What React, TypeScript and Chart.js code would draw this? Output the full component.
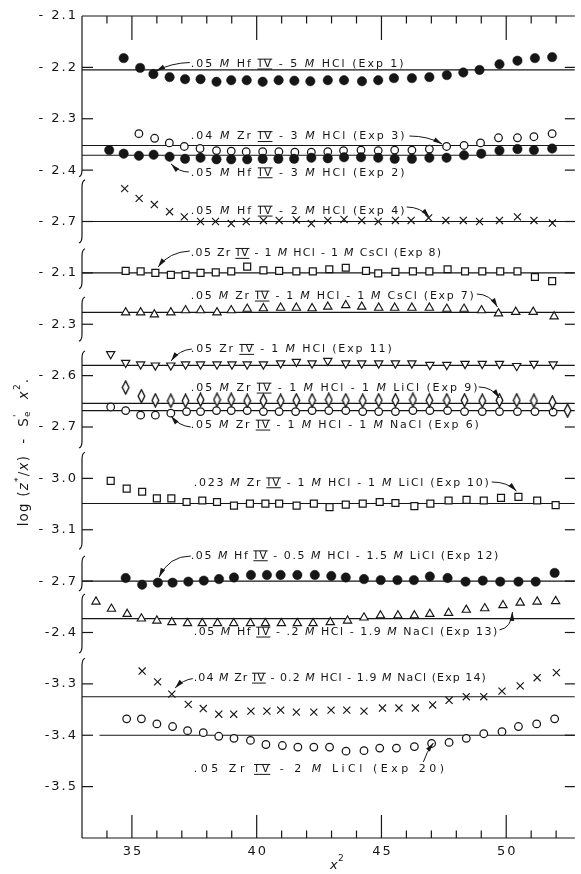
import React, { useEffect, useRef } from "react";
import { Chart, registerables } from "chart.js";

Chart.register(...registerables);

// ---------- axes ----------
const X_MIN = 33;
const X_MAX = 52.75;
const Y_MIN = 0;
const Y_MAX = 16;

const xTickMajor = [35, 40, 45, 50];
const xTickMinor = [34, 36, 37, 38, 39, 41, 42, 43, 44, 46, 47, 48, 49, 51, 52];

// Broken y axis: each panel places `panelAnchorValue` at stacked position `panelAnchorPos` (0.1 log unit = 1)
const panelAnchorValue = [-2.1, -2.7, -2.1, -2.3, -2.6, -3.0, -2.7, -2.4, -3.3];
const panelAnchorPos = [0, 4, 5, 6, 7, 9, 11, 12, 13];

const yTickPositions = [0, 1, 2, 3, 4, 5, 6, 7, 8, 9, 10, 11, 12, 13, 14, 15];
const yTickLabels = [
  "- 2.1", "- 2.2", "- 2.3", "- 2.4", "- 2.7", "- 2.1", "- 2.3", "- 2.6",
  "- 2.7", "- 3.0", "- 3.1", "- 2.7", "-2.4", "-3.3", "-3.4", "-3.5",
];
// [end of panel, start of next panel] in stacked position units
const axisBreaks = [
  [3.11, 3.21], [4.4, 4.55], [5.29, 5.49], [6.31, 6.54],
  [8.39, 8.51], [10.36, 10.53], [11.17, 11.27], [12.38, 12.52],
];

// ---------- data ----------
const exp1X = [34.67, 35.33, 35.86, 36.51, 37.13, 37.75, 38.39, 38.98, 39.6, 40.24, 40.88, 41.51, 42.15, 42.85, 43.5, 44.22, 44.87, 45.5, 46.22, 46.92, 47.62, 48.28, 48.93, 49.73, 50.45, 51.15, 51.84];
const exp1Y = [-2.182, -2.201, -2.213, -2.219, -2.223, -2.223, -2.228, -2.225, -2.225, -2.228, -2.225, -2.226, -2.227, -2.225, -2.225, -2.227, -2.225, -2.221, -2.221, -2.219, -2.215, -2.21, -2.205, -2.194, -2.187, -2.182, -2.18];

const exp3X = [35.28, 35.91, 36.5, 37.1, 37.73, 38.39, 38.98, 39.58, 40.24, 40.89, 41.53, 42.19, 42.85, 43.48, 44.18, 44.87, 45.53, 46.22, 46.92, 47.61, 48.31, 48.97, 49.69, 50.45, 51.11, 51.84];
const exp3Y = [-2.329, -2.338, -2.347, -2.354, -2.358, -2.362, -2.363, -2.364, -2.364, -2.364, -2.365, -2.365, -2.364, -2.362, -2.361, -2.362, -2.361, -2.361, -2.359, -2.354, -2.352, -2.347, -2.337, -2.337, -2.335, -2.329];

const exp2X = [34.09, 34.67, 35.28, 35.87, 36.51, 37.13, 37.75, 38.39, 38.98, 39.62, 40.24, 40.87, 41.5, 42.19, 42.85, 43.5, 44.18, 44.87, 45.53, 46.22, 46.92, 47.61, 48.31, 49.0, 49.73, 50.45, 51.11, 51.84];
const exp2Y = [-2.361, -2.368, -2.372, -2.37, -2.374, -2.378, -2.376, -2.379, -2.379, -2.379, -2.378, -2.378, -2.378, -2.376, -2.377, -2.375, -2.375, -2.376, -2.378, -2.378, -2.376, -2.376, -2.371, -2.368, -2.362, -2.359, -2.361, -2.358];

const exp4X = [34.71, 35.29, 35.9, 36.51, 37.1, 37.75, 38.35, 38.98, 39.58, 40.27, 40.9, 41.59, 42.19, 42.85, 43.5, 44.21, 44.87, 45.56, 46.19, 46.89, 47.58, 48.28, 48.93, 49.73, 50.45, 51.11, 51.85];
const exp4Y = [-2.636, -2.655, -2.667, -2.681, -2.691, -2.7, -2.7, -2.704, -2.7, -2.698, -2.698, -2.697, -2.704, -2.698, -2.696, -2.698, -2.7, -2.698, -2.698, -2.693, -2.698, -2.698, -2.7, -2.698, -2.691, -2.698, -2.703];

const exp8X = [34.75, 35.35, 35.94, 36.56, 37.15, 37.75, 38.36, 38.98, 39.62, 40.27, 40.9, 41.59, 42.25, 42.91, 43.57, 44.38, 44.87, 45.56, 46.26, 46.92, 47.65, 48.35, 49.04, 49.76, 50.45, 51.15, 51.84];
const exp8Y = [-2.096, -2.097, -2.1, -2.104, -2.104, -2.1, -2.099, -2.097, -2.088, -2.095, -2.096, -2.097, -2.097, -2.093, -2.09, -2.096, -2.101, -2.098, -2.097, -2.097, -2.093, -2.097, -2.097, -2.097, -2.097, -2.108, -2.116];

const exp7X = [34.75, 35.35, 35.9, 36.56, 37.15, 37.75, 38.41, 38.98, 39.62, 40.27, 40.96, 41.59, 42.22, 42.85, 43.57, 44.21, 44.89, 45.53, 46.22, 46.92, 47.62, 48.31, 49.01, 49.69, 50.38, 51.08, 51.92];
const exp7Y = [-2.277, -2.277, -2.281, -2.277, -2.273, -2.273, -2.277, -2.273, -2.27, -2.269, -2.268, -2.268, -2.269, -2.266, -2.263, -2.266, -2.268, -2.268, -2.268, -2.268, -2.27, -2.27, -2.273, -2.279, -2.276, -2.276, -2.285];

const exp11X = [34.15, 34.75, 35.35, 35.94, 36.56, 37.15, 37.75, 38.41, 39.01, 39.62, 40.27, 40.96, 41.59, 42.22, 42.85, 43.57, 44.21, 44.89, 45.56, 46.22, 46.94, 47.62, 48.35, 49.04, 49.73, 50.42, 51.11, 51.88];
const exp11Y = [-2.558, -2.575, -2.578, -2.58, -2.58, -2.578, -2.578, -2.578, -2.578, -2.578, -2.578, -2.576, -2.573, -2.576, -2.571, -2.576, -2.576, -2.576, -2.576, -2.576, -2.579, -2.579, -2.577, -2.577, -2.577, -2.581, -2.577, -2.578];

const exp9X = [34.75, 35.38, 35.94, 36.56, 37.15, 37.75, 38.41, 38.98, 39.62, 40.27, 40.96, 41.59, 42.22, 42.89, 43.57, 44.25, 44.89, 45.56, 46.26, 46.92, 47.62, 48.33, 49.04, 49.73, 50.42, 51.11, 51.85, 52.46];
const exp9Y = [-2.623, -2.64, -2.648, -2.649, -2.649, -2.647, -2.647, -2.647, -2.649, -2.649, -2.649, -2.648, -2.648, -2.647, -2.648, -2.649, -2.648, -2.648, -2.647, -2.648, -2.648, -2.648, -2.649, -2.648, -2.648, -2.649, -2.652, -2.668];

const exp6X = [34.15, 34.75, 35.35, 35.94, 36.56, 37.19, 37.75, 38.39, 38.98, 39.62, 40.27, 40.9, 41.56, 42.22, 42.89, 43.57, 44.25, 44.89, 45.56, 46.26, 46.94, 47.65, 48.33, 49.04, 49.73, 50.45, 51.15, 51.88];
const exp6Y = [-2.661, -2.668, -2.677, -2.677, -2.673, -2.67, -2.67, -2.668, -2.668, -2.668, -2.67, -2.67, -2.67, -2.668, -2.668, -2.668, -2.67, -2.67, -2.67, -2.668, -2.668, -2.668, -2.67, -2.67, -2.67, -2.67, -2.67, -2.671];

const exp10X = [34.15, 34.79, 35.41, 36.0, 36.58, 37.19, 37.82, 38.41, 39.09, 39.73, 40.35, 40.9, 41.6, 42.29, 42.92, 43.57, 44.25, 44.93, 45.56, 46.32, 46.96, 47.69, 48.41, 49.1, 49.79, 50.49, 51.24, 51.98];
const exp10Y = [-3.005, -3.02, -3.026, -3.039, -3.039, -3.046, -3.043, -3.046, -3.053, -3.049, -3.049, -3.049, -3.053, -3.049, -3.056, -3.051, -3.049, -3.046, -3.048, -3.054, -3.049, -3.043, -3.042, -3.043, -3.038, -3.036, -3.043, -3.052];

const exp12X = [34.75, 35.41, 36.04, 36.63, 37.26, 37.88, 38.49, 39.09, 39.77, 40.41, 40.96, 41.63, 42.33, 42.99, 43.57, 44.3, 44.97, 45.64, 46.3, 46.94, 47.65, 48.37, 49.06, 49.76, 50.49, 51.18, 51.94];
const exp12Y = [-2.694, -2.707, -2.703, -2.703, -2.701, -2.699, -2.696, -2.693, -2.688, -2.688, -2.688, -2.688, -2.688, -2.69, -2.693, -2.696, -2.698, -2.698, -2.698, -2.691, -2.694, -2.701, -2.699, -2.701, -2.701, -2.701, -2.684];

const exp13X = [33.56, 34.18, 34.81, 35.38, 36.0, 36.6, 37.23, 37.82, 38.43, 39.08, 39.75, 40.35, 40.99, 41.63, 42.26, 42.95, 43.64, 44.3, 44.96, 45.66, 46.32, 46.94, 47.69, 48.4, 49.14, 49.87, 50.56, 51.24, 51.98];
const exp13Y = [-2.34, -2.354, -2.364, -2.373, -2.377, -2.38, -2.382, -2.382, -2.382, -2.382, -2.382, -2.382, -2.382, -2.382, -2.382, -2.38, -2.377, -2.371, -2.367, -2.367, -2.367, -2.364, -2.362, -2.356, -2.353, -2.347, -2.342, -2.34, -2.339];

const exp14X = [35.41, 36.03, 36.6, 37.26, 37.86, 38.48, 39.08, 39.77, 40.41, 40.96, 41.59, 42.29, 42.98, 43.61, 44.3, 45.04, 45.7, 46.36, 47.05, 47.71, 48.4, 49.1, 49.83, 50.56, 51.24, 52.01];
const exp14Y = [-3.275, -3.296, -3.32, -3.34, -3.348, -3.359, -3.359, -3.353, -3.353, -3.351, -3.355, -3.355, -3.351, -3.351, -3.353, -3.347, -3.347, -3.347, -3.341, -3.332, -3.325, -3.325, -3.314, -3.304, -3.288, -3.278];

const exp20X = [34.79, 35.38, 36.0, 36.63, 37.23, 37.86, 38.48, 39.09, 39.75, 40.37, 41.03, 41.65, 42.29, 42.92, 43.58, 44.3, 44.93, 45.6, 46.32, 47.01, 47.71, 48.4, 49.1, 49.83, 50.49, 51.22, 51.94];
const exp20Y = [-3.368, -3.368, -3.378, -3.383, -3.391, -3.395, -3.402, -3.406, -3.41, -3.418, -3.42, -3.423, -3.423, -3.423, -3.431, -3.43, -3.425, -3.425, -3.422, -3.416, -3.414, -3.406, -3.397, -3.393, -3.383, -3.378, -3.368];

// series: name, x, y, panel index, marker
const series = [
  { name: "Exp 1", x: exp1X, y: exp1Y, panel: 0, marker: "dot" },
  { name: "Exp 3", x: exp3X, y: exp3Y, panel: 0, marker: "ring" },
  { name: "Exp 2", x: exp2X, y: exp2Y, panel: 0, marker: "dot" },
  { name: "Exp 4", x: exp4X, y: exp4Y, panel: 1, marker: "cross" },
  { name: "Exp 8", x: exp8X, y: exp8Y, panel: 2, marker: "square" },
  { name: "Exp 7", x: exp7X, y: exp7Y, panel: 3, marker: "triUp" },
  { name: "Exp 11", x: exp11X, y: exp11Y, panel: 4, marker: "triDown" },
  { name: "Exp 9", x: exp9X, y: exp9Y, panel: 4, marker: "diamond" },
  { name: "Exp 6", x: exp6X, y: exp6Y, panel: 4, marker: "ring" },
  { name: "Exp 10", x: exp10X, y: exp10Y, panel: 5, marker: "square" },
  { name: "Exp 12", x: exp12X, y: exp12Y, panel: 6, marker: "dot" },
  { name: "Exp 13", x: exp13X, y: exp13Y, panel: 7, marker: "triUp" },
  { name: "Exp 14", x: exp14X, y: exp14Y, panel: 8, marker: "cross" },
  { name: "Exp 20", x: exp20X, y: exp20Y, panel: 8, marker: "ring" },
];

// fitted horizontal lines: panel, level, starting x
const refPanels = [0, 0, 0, 1, 2, 3, 4, 4, 4, 5, 6, 7, 8, 8];
const refLevels = [-2.205, -2.352, -2.371, -2.7, -2.1, -2.277, -2.58, -2.654, -2.668, -3.049, -2.7, -2.373, -3.325, -3.4];
const refStartX = [33, 33, 33, 33, 33, 33, 33, 33, 33, 33, 33, 33, 33, 33.7];

// ---------- annotation layout (text in data x, stacked y) ----------
const labelTexts = [
  ".05 *M* Hf #IV# - 5 *M* HCl (Exp 1)",
  ".04 *M* Zr #IV# - 3 *M* HCl (Exp 3)",
  ".05 *M* Hf #IV# - 3 *M* HCl (Exp 2)",
  ".05 *M* Hf #IV# - 2 *M* HCl (Exp 4)",
  ".05 Zr #IV# - 1 *M* HCl - 1 *M* CsCl (Exp 8)",
  ".05 *M* Zr #IV# - 1 *M* HCl - 1 *M* CsCl (Exp 7)",
  ".05 Zr #IV# - 1 *M* HCl (Exp 11)",
  ".05 *M* Zr #IV# - 1 *M* HCl - 1 *M* LiCl (Exp 9)",
  ".05 *M* Zr #IV# - 1 *M* HCl - 1 *M* NaCl (Exp 6)",
  ".023 *M* Zr #IV# - 1 *M* HCl - 1 *M* LiCl (Exp 10)",
  ".05 *M* Hf #IV# - 0.5 *M* HCl - 1.5 *M* LiCl (Exp 12)",
  ".05 *M* Hf #IV# - .2 *M* HCl - 1.9 *M* NaCl (Exp 13)",
  ".04 *M* Zr #IV# - 0.2 *M* HCl - 1.9 *M* NaCl (Exp 14)",
  ".05 Zr #IV# - 2 *M* LiCl (Exp 20)",
];
const labelStart = [37.36, 37.36, 37.36, 37.36, 37.36, 37.36, 37.36, 37.36, 37.36, 37.48, 37.36, 37.48, 37.48, 37.48];
const labelEnd = [45.89, 45.93, 45.93, 45.93, 47.39, 48.7, 45.41, 48.85, 48.9, 49.3, 49.68, 49.64, 49.18, 47.51];
const labelPos = [0.934, 2.345, 3.05, 3.796, 4.619, 5.45, 6.488, 7.241, 7.961, 9.084, 10.505, 11.99, 12.886, 14.663];
// arrows: [startX, startPos, ctrlX, ctrlPos, tipX, tipPos]
const arrows = [
  [37.32, 0.905, 36.57, 0.915, 35.97, 1.071],
  [46.12, 2.336, 46.87, 2.336, 47.43, 2.491],
  [37.28, 3.037, 36.89, 3.037, 36.57, 2.88],
  [46.01, 3.718, 46.56, 3.718, 46.92, 3.912],
  [37.32, 4.574, 36.49, 4.594, 36.05, 4.886],
  [48.82, 5.411, 49.34, 5.411, 49.65, 5.664],
  [37.4, 6.482, 36.89, 6.501, 36.57, 6.715],
  [48.9, 7.221, 49.42, 7.221, 49.73, 7.436],
  [37.36, 8.0, 36.89, 7.981, 36.57, 7.786],
  [49.42, 9.07, 50.05, 9.07, 50.41, 9.246],
  [37.36, 10.511, 36.49, 10.511, 36.09, 10.92],
  [49.73, 11.95, 50.21, 11.91, 50.25, 11.6],
  [37.44, 12.896, 37.04, 12.925, 36.73, 13.08],
  [46.68, 14.52, 46.8, 14.33, 47.08, 14.15],
];

// ---------- styling ----------
const INK = "#161616";
const FONT = '"DejaVu Sans", "Liberation Sans", sans-serif';

function toPos(v: number, panel: number) {
  return panelAnchorPos[panel] + (panelAnchorValue[panel] - v) * 10;
}

function makeDiamond() {
  const c = document.createElement("canvas");
  c.width = 9;
  c.height = 15;
  const g = c.getContext("2d")!;
  g.beginPath();
  g.moveTo(4.5, 1);
  g.lineTo(7.8, 7.5);
  g.lineTo(4.5, 14);
  g.lineTo(1.2, 7.5);
  g.closePath();
  g.fillStyle = "#fff";
  g.fill();
  g.lineWidth = 1.4;
  g.strokeStyle = INK;
  g.stroke();
  return c;
}

function markerStyle(marker: string, diamond: HTMLCanvasElement) {
  switch (marker) {
    case "dot":
      return { pointStyle: "circle", pointRadius: 4.7, backgroundColor: INK, borderColor: INK, borderWidth: 0.5, order: 1 };
    case "ring":
      return { pointStyle: "circle", pointRadius: 3.8, backgroundColor: "#fff", borderColor: INK, borderWidth: 1.25, order: 10 };
    case "square":
      return { pointStyle: "rect", pointRadius: 4.9, backgroundColor: "#fff", borderColor: INK, borderWidth: 1.25, order: 6 };
    case "triUp":
      return { pointStyle: "triangle", pointRadius: 4.8, backgroundColor: "#fff", borderColor: INK, borderWidth: 1.15, order: 6 };
    case "triDown":
      return { pointStyle: "triangle", pointRotation: 180, pointRadius: 4.8, backgroundColor: "#fff", borderColor: INK, borderWidth: 1.15, order: 6 };
    case "cross":
      return { pointStyle: "crossRot", pointRadius: 5, backgroundColor: INK, borderColor: INK, borderWidth: 1.15, order: 5 };
    default:
      return { pointStyle: diamond, pointRadius: 5, backgroundColor: "#fff", borderColor: INK, borderWidth: 1, order: 8 };
  }
}

function drawSpaced(ctx: CanvasRenderingContext2D, text: string, x: number, y: number, spacing: number, align: string) {
  const chars = Array.from(text);
  const widths = chars.map((c) => ctx.measureText(c).width);
  const total = widths.reduce((a, b) => a + b, 0) + spacing * (chars.length - 1);
  let cx = align === "right" ? x - total : align === "center" ? x - total / 2 : x;
  ctx.textAlign = "left";
  chars.forEach((c, i) => {
    ctx.fillText(c, cx, y);
    cx += widths[i] + spacing;
  });
}

function parseRich(s: string) {
  const out: { t: string; k: string }[] = [];
  const re = /\*([^*]+)\*|#([^#]+)#|([^*#]+)/g;
  let m: RegExpExecArray | null;
  while ((m = re.exec(s))) {
    if (m[1]) out.push({ t: m[1], k: "i" });
    else if (m[2]) out.push({ t: m[2], k: "bar" });
    else out.push({ t: m[3], k: "n" });
  }
  return out;
}

function drawRich(ctx: CanvasRenderingContext2D, s: string, x0: number, x1: number, y: number, size: number) {
  const glyphs: { c: string; k: string; w: number; x: number }[] = [];
  parseRich(s).forEach((p) => {
    for (const c of Array.from(p.t)) glyphs.push({ c, k: p.k, w: 0, x: 0 });
  });
  const fontOf = (k: string) => (k === "i" ? "italic " : "") + size + "px " + FONT;
  glyphs.forEach((g) => {
    ctx.font = fontOf(g.k);
    g.w = ctx.measureText(g.c).width;
  });
  const natural = glyphs.reduce((a, g) => a + g.w, 0);
  const sp = Math.max(0, (x1 - x0 - natural) / (glyphs.length - 1));
  let cx = x0;
  ctx.textAlign = "left";
  ctx.textBaseline = "middle";
  glyphs.forEach((g) => {
    ctx.font = fontOf(g.k);
    g.x = cx;
    ctx.fillText(g.c, cx, y);
    cx += g.w + sp;
  });
  // Roman numeral bars
  let i = 0;
  while (i < glyphs.length) {
    if (glyphs[i].k === "bar") {
      let j = i;
      while (j + 1 < glyphs.length && glyphs[j + 1].k === "bar") j++;
      const a = glyphs[i].x - 1;
      const b = glyphs[j].x + glyphs[j].w + 1;
      ctx.lineWidth = 1;
      ctx.beginPath();
      ctx.moveTo(a, y - size * 0.44);
      ctx.lineTo(b, y - size * 0.44);
      ctx.moveTo(a, y + size * 0.46);
      ctx.lineTo(b, y + size * 0.46);
      ctx.stroke();
      i = j + 1;
    } else i++;
  }
}

const framePlugin = {
  id: "paperFrame",
  beforeDraw(chart: any) {
    const { ctx, width, height } = chart;
    ctx.save();
    ctx.fillStyle = "#fff";
    ctx.fillRect(0, 0, width, height);
    ctx.restore();
  },
  beforeDatasetsDraw(chart: any) {
    const { ctx, chartArea, scales } = chart;
    const { left, right, top, bottom } = chartArea;
    const xs = scales.x;
    const ys = scales.y;
    ctx.save();
    ctx.strokeStyle = INK;
    ctx.fillStyle = INK;
    ctx.lineWidth = 1.2;
    const seg = (a: number, b: number, c: number, d: number) => {
      ctx.beginPath();
      ctx.moveTo(a, b);
      ctx.lineTo(c, d);
      ctx.stroke();
    };
    seg(left, top, right, top);
    seg(left, bottom, right, bottom);

    // broken left axis
    const bounds = [Y_MIN];
    axisBreaks.forEach((b) => bounds.push(b[0], b[1]));
    bounds.push(Y_MAX);
    const nSeg = bounds.length / 2;
    for (let i = 0; i < nSeg; i++) {
      const pS = ys.getPixelForValue(bounds[2 * i]);
      const pE = ys.getPixelForValue(bounds[2 * i + 1]);
      ctx.beginPath();
      if (i > 0) {
        ctx.moveTo(left + 3, pS - 1);
        ctx.quadraticCurveTo(left, pS, left, pS + 6);
      } else ctx.moveTo(left, pS);
      if (i < nSeg - 1) {
        ctx.lineTo(left, pE - 6);
        ctx.quadraticCurveTo(left, pE, left - 3, pE + 1);
      } else ctx.lineTo(left, pE);
      ctx.stroke();
    }

    // x ticks (top and bottom, pointing inward)
    xTickMajor.forEach((v) => {
      const px = xs.getPixelForValue(v);
      seg(px, top, px, top + 24);
      seg(px, bottom, px, bottom - 23);
    });
    xTickMinor.forEach((v) => {
      const px = xs.getPixelForValue(v);
      seg(px, top, px, top + 7.5);
      seg(px, bottom, px, bottom - 7.5);
    });
    // y ticks (left and right, inward)
    yTickPositions.forEach((p) => {
      if (p === 0) return;
      const py = ys.getPixelForValue(p);
      seg(left, py, left + 11, py);
      seg(right - 10, py, right, py);
    });

    // tick labels
    ctx.font = "13px " + FONT;
    ctx.textBaseline = "middle";
    yTickLabels.forEach((lab, i) => {
      drawSpaced(ctx, lab, left - 6, ys.getPixelForValue(yTickPositions[i]), 2, "right");
    });
    xTickMajor.forEach((v) => {
      drawSpaced(ctx, String(v), xs.getPixelForValue(v), bottom + 14, 2, "center");
    });

    // x title
    ctx.font = "italic 13px " + FONT;
    ctx.textAlign = "left";
    ctx.fillText("x", 330, 866);
    ctx.font = "9px " + FONT;
    ctx.fillText("2", 338, 859);

    // y title (rotated)
    ctx.save();
    ctx.translate(24, 452);
    ctx.rotate(-Math.PI / 2);
    const big = 13.5;
    const small = 9;
    type Piece = { t: string; f: string; dy: number; sub?: string };
    const pieces: Piece[] = [
      { t: "log", f: big + "px " + FONT, dy: 0 },
      { t: " (", f: big + "px " + FONT, dy: 0 },
      { t: "z", f: "italic " + big + "px " + FONT, dy: 0 },
      { t: "*", f: small + "px " + FONT, dy: -5 },
      { t: "/", f: big + "px " + FONT, dy: 0 },
      { t: "x", f: "italic " + big + "px " + FONT, dy: 0 },
      { t: ")  -  S", f: big + "px " + FONT, dy: 0 },
      { t: "'", f: small + "px " + FONT, dy: -6, sub: "e" },
      { t: "  ", f: big + "px " + FONT, dy: 0 },
      { t: "x", f: "italic " + big + "px " + FONT, dy: 0 },
      { t: "2", f: small + "px " + FONT, dy: -6 },
      { t: ".", f: big + "px " + FONT, dy: 0 },
    ];
    const tsp = 1.2;
    const widthOf = (p: Piece) => {
      ctx.font = p.f;
      let w = Array.from(p.t).reduce((a, c) => a + ctx.measureText(c).width + tsp, 0);
      if (p.sub) {
        const w2 = Array.from(p.sub).reduce((a, c) => a + ctx.measureText(c).width + tsp, 0);
        w = Math.max(w, w2);
      }
      return w;
    };
    const totalW = pieces.reduce((a, p) => a + widthOf(p), 0);
    let tx = -totalW / 2;
    ctx.textBaseline = "middle";
    ctx.textAlign = "left";
    pieces.forEach((p) => {
      const w = widthOf(p);
      ctx.font = p.f;
      let cx = tx;
      Array.from(p.t).forEach((c) => {
        ctx.fillText(c, cx, p.dy);
        cx += ctx.measureText(c).width + tsp;
      });
      if (p.sub) {
        let sx = tx;
        Array.from(p.sub).forEach((c) => {
          ctx.fillText(c, sx, 4);
          sx += ctx.measureText(c).width + tsp;
        });
      }
      tx += w;
    });
    ctx.restore();
    ctx.restore();
  },
  afterDatasetsDraw(chart: any) {
    const { ctx, scales } = chart;
    const xs = scales.x;
    const ys = scales.y;
    ctx.save();
    ctx.fillStyle = INK;
    ctx.strokeStyle = INK;
    labelTexts.forEach((t, i) => {
      drawRich(ctx, t, xs.getPixelForValue(labelStart[i]), xs.getPixelForValue(labelEnd[i]), ys.getPixelForValue(labelPos[i]), 11);
    });
    arrows.forEach((a) => {
      const sx = xs.getPixelForValue(a[0]);
      const sy = ys.getPixelForValue(a[1]);
      const cx = xs.getPixelForValue(a[2]);
      const cy = ys.getPixelForValue(a[3]);
      const tx = xs.getPixelForValue(a[4]);
      const ty = ys.getPixelForValue(a[5]);
      ctx.lineWidth = 1;
      ctx.beginPath();
      ctx.moveTo(sx, sy);
      ctx.quadraticCurveTo(cx, cy, tx, ty);
      ctx.stroke();
      const ang = Math.atan2(ty - cy, tx - cx);
      const L = 9;
      const H = 2.4;
      ctx.beginPath();
      ctx.moveTo(tx, ty);
      ctx.lineTo(tx - L * Math.cos(ang) - H * Math.sin(ang), ty - L * Math.sin(ang) + H * Math.cos(ang));
      ctx.lineTo(tx - L * Math.cos(ang) + H * Math.sin(ang), ty - L * Math.sin(ang) - H * Math.cos(ang));
      ctx.closePath();
      ctx.fill();
    });
    ctx.restore();
  },
};

export default function App() {
  const ref = useRef<HTMLCanvasElement | null>(null);
  useEffect(() => {
    if (!ref.current) return;
    const diamond = makeDiamond();
    const datasets: any[] = [];
    series.forEach((s) => {
      datasets.push({
        label: s.name,
        data: s.x.map((xv, i) => ({ x: xv, y: toPos(s.y[i], s.panel) })),
        showLine: false,
        ...markerStyle(s.marker, diamond),
      });
    });
    refLevels.forEach((lv, i) => {
      const p = toPos(lv, refPanels[i]);
      datasets.push({
        type: "line",
        label: "fit " + i,
        data: [
          { x: refStartX[i], y: p },
          { x: X_MAX, y: p },
        ],
        showLine: true,
        pointRadius: 0,
        borderColor: INK,
        borderWidth: 1.15,
        fill: false,
        order: 20,
      });
    });
    const chart = new Chart(ref.current, {
      type: "scatter",
      data: { datasets },
      options: {
        responsive: false,
        animation: false,
        devicePixelRatio: 1,
        layout: { padding: { left: 82, right: 1, top: 16, bottom: 36 } },
        scales: {
          x: { type: "linear", min: X_MIN, max: X_MAX, display: false },
          y: { type: "linear", min: Y_MIN, max: Y_MAX, reverse: true, display: false },
        },
        plugins: { legend: { display: false }, tooltip: { enabled: false } },
      } as any,
      plugins: [framePlugin as any],
    });
    return () => chart.destroy();
  }, []);
  return (
    <div style={{ position: "absolute", left: 0, top: 0, width: 581, height: 874, background: "#fff" }}>
      <canvas ref={ref} width={581} height={874} style={{ display: "block" }} />
    </div>
  );
}
